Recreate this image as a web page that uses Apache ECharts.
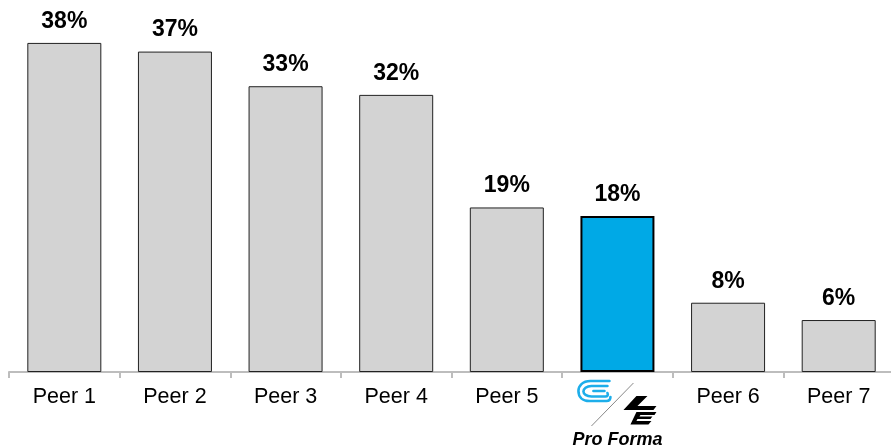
<!DOCTYPE html>
<html>
<head>
<meta charset="utf-8">
<script src="https://cdn.jsdelivr.net/npm/echarts@6/dist/echarts.min.js"></script>
<style>html,body{margin:0;padding:0;background:#fff;}#c{width:891px;height:447px;}</style>
</head>
<body>
<div id="c"></div>
<script>
var categories = ['Peer 1', 'Peer 2', 'Peer 3', 'Peer 4', 'Peer 5', 'Pro Forma', 'Peer 6', 'Peer 7'];
var values = [38, 37, 33, 32, 19, 18, 8, 6];
var highlightCategory = 'Pro Forma';

var logoSvg = '<svg xmlns="http://www.w3.org/2000/svg" width="82" height="47" viewBox="0 0 82 47">' +
  '<g fill="none" stroke="#1DAEEA" stroke-width="2.6" stroke-linecap="round">' +
  '<path d="M33 2 H14 C6 2 2 7 2 12 C2 18 6 22 13 22 H30 C33 22 34 20 34 18"/>' +
  '<path d="M31 7 H15 C10 7 7 10 7 12.5 C7 15 10 17.5 15 17.5 H29 C31 17.5 32 16 31 14"/>' +
  '<path d="M28 12 H17"/>' +
  '</g>' +
  '<line x1="15" y1="47" x2="57" y2="4" stroke="#888" stroke-width="1"/>' +
  '<g fill="#000">' +
  '<polygon points="60,17 71,17 61,27 80,27 77,31 47,31"/>' +
  '<polygon points="60,33 80,33 78,36 64,36 63,37.5 76,37.5 74,40 61,40 60,42 75,42 72,45.5 54,45.5"/>' +
  '</g>' +
  '</svg>';
var logoUri = 'data:image/svg+xml;charset=utf-8,' + encodeURIComponent(logoSvg);

var chart = echarts.init(document.getElementById('c'));
chart.setOption({
  animation: false,
  grid: { left: 9, width: 885, top: 25.6, bottom: 75, containLabel: false, outerBoundsMode: 'none' },
  xAxis: {
    type: 'category',
    data: categories,
    axisLine: { show: true, lineStyle: { color: '#BDBDBD', width: 2 } },
    axisTick: { show: true, alignWithLabel: false, length: 6, lineStyle: { color: '#BDBDBD', width: 2 } },
    axisLabel: {
      interval: 0,
      margin: 7,
      color: '#000',
      fontFamily: 'Liberation Sans, Arial, sans-serif',
      formatter: function (v) {
        if (v === highlightCategory) return '{logo|}\n{pf|' + v + '}';
        return '{n|' + v + '}';
      },
      rich: {
        n: { fontSize: 21.5, fontFamily: 'Liberation Sans, Arial, sans-serif', color: '#000', lineHeight: 36 },
        logo: { width: 82, height: 47, lineHeight: 47, backgroundColor: { image: logoUri } },
        pf: { fontSize: 18, fontStyle: 'italic', fontWeight: 'bold', fontFamily: 'Liberation Sans, Arial, sans-serif', color: '#000', lineHeight: 28 }
      }
    }
  },
  yAxis: {
    type: 'value', min: 0, max: 40, show: false,
    splitLine: { show: false }
  },
  series: [{
    type: 'bar',
    barWidth: 74,
    data: values.map(function (v, i) {
      var hi = categories[i] === highlightCategory;
      return {
        value: v,
        itemStyle: hi ? { color: '#00A9E6', borderColor: '#000', borderWidth: 2 }
                      : { color: '#D3D3D3', borderColor: '#222', borderWidth: 1 }
      };
    }),
    label: {
      show: true, position: 'top', distance: 10,
      formatter: '{c}%',
      fontSize: 23, fontWeight: 'bold', color: '#000',
      fontFamily: 'Liberation Sans, Arial, sans-serif'
    }
  }]
});
</script>
</body>
</html>
